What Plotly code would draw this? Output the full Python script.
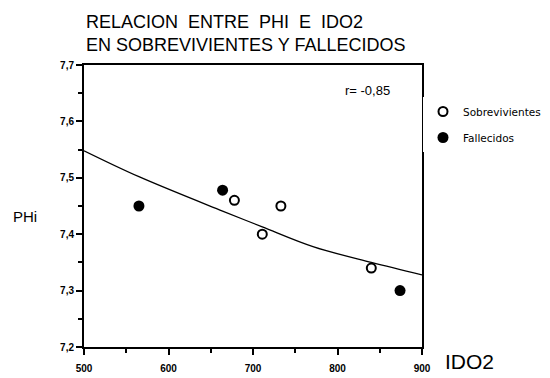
import plotly.graph_objects as go

# Data
sobrev_x = [678, 711, 733, 840]
sobrev_y = [7.46, 7.40, 7.45, 7.34]
fallec_x = [565, 664, 874]
fallec_y = [7.45, 7.478, 7.30]
curve_x = [500, 565, 664, 711, 771, 840, 900]
curve_y = [7.548, 7.502, 7.441, 7.413, 7.378, 7.350, 7.328]
x_ticks = [500, 600, 700, 800, 900]
y_ticks = [7.2, 7.3, 7.4, 7.5, 7.6, 7.7]

FONT = "Liberation Sans"
W, H = 542, 370  # page body has an 8px margin

fig = go.Figure()
fig.add_trace(go.Scatter(x=curve_x, y=curve_y, mode="lines",
                         line=dict(color="black", width=1.3, shape="spline"),
                         showlegend=False, hoverinfo="skip"))
fig.add_trace(go.Scatter(x=sobrev_x, y=sobrev_y, mode="markers", name="Sobrevivientes",
                         legendgroup="s",
                         marker=dict(symbol="circle-open", size=9, color="black",
                                     line=dict(width=2, color="black"))))
fig.add_trace(go.Scatter(x=fallec_x, y=fallec_y, mode="markers", name="Fallecidos",
                         legendgroup="f",
                         marker=dict(symbol="circle", size=11, color="black")))

axis_common = dict(showgrid=False, zeroline=False, showline=True, linecolor="black",
                   linewidth=2, mirror=True, ticks="outside", ticklen=6, tickwidth=2,
                   tickcolor="black", automargin=False,
                   tickfont=dict(family=FONT, size=10, color="black"))

fig.update_xaxes(range=[500, 900], tickvals=x_ticks,
                 ticktext=[f"<b>{v}</b>" for v in x_ticks], ticklabelstandoff=5,
                 minor=dict(dtick=50, ticks="outside", ticklen=4, tickwidth=1.5, tickcolor="black"),
                 **axis_common)
fig.update_yaxes(range=[7.2, 7.7], tickvals=y_ticks,
                 ticktext=["<b>" + f"{v:.1f}".replace(".", ",") + "</b>" for v in y_ticks],
                 minor=dict(dtick=0.05, ticks="outside", ticklen=4, tickwidth=1.5, tickcolor="black"),
                 **axis_common)

fig.add_annotation(text="RELACION  ENTRE  PHI  E  IDO2<br>EN SOBREVIVIENTES Y FALLECIDOS",
                   xref="paper", yref="paper", x=0, y=1.03, xanchor="left", yanchor="bottom",
                   showarrow=False, align="left",
                   font=dict(family=FONT, size=18, color="black"))
fig.add_annotation(text="r= -0,85", xref="paper", yref="paper", x=0.911, y=0.908,
                   xanchor="right", yanchor="middle", showarrow=False,
                   font=dict(family=FONT, size=13, color="black"))
fig.add_annotation(text="PHi", xref="paper", yref="paper", x=-0.175, y=0.461,
                   xanchor="center", yanchor="middle", showarrow=False,
                   font=dict(family=FONT, size=15, color="black"))
fig.add_annotation(text="IDO2", xref="paper", yref="paper", x=1.062, y=-0.053,
                   xanchor="left", yanchor="middle", showarrow=False,
                   font=dict(family=FONT, size=21, color="black"))

fig.update_layout(width=W, height=H, plot_bgcolor="white", paper_bgcolor="white",
                  margin=dict(l=76, r=128, t=57, b=31, autoexpand=False),
                  legend=dict(xref="container", yref="container",
                              x=415 / W, y=1 - 89 / H, xanchor="left", yanchor="top",
                              font=dict(family="DejaVu Sans", size=10.5, color="black"),
                              tracegroupgap=7, itemwidth=30),
                  font=dict(family=FONT, color="black"))

fig.write_html("out.html")
